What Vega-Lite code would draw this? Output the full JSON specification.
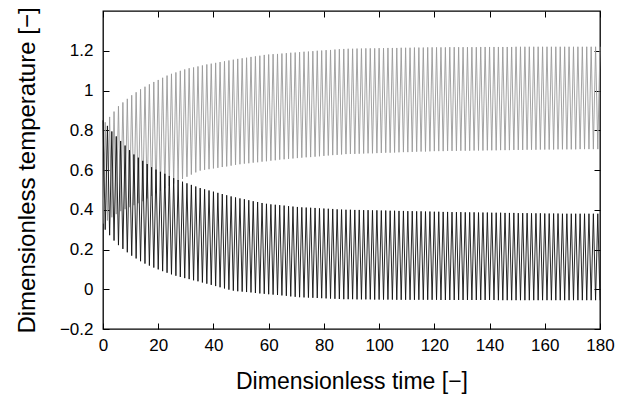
{
 "$schema": "https://vega.github.io/schema/vega-lite/v6.json",
 "width": 497,
 "height": 318,
 "autosize": {"type": "none"},
 "padding": {"left": 103, "top": 11, "right": 20, "bottom": 68},
 "background": "white",
 "config": {
  "view": {"stroke": "#000", "strokeWidth": 1.3},
  "font": "Liberation Sans",
  "axis": {"grid": false, "domain": false, "tickColor": "#000", "tickWidth": 1, "labelColor": "#000", "titleColor": "#000", "labelFont": "Liberation Sans", "titleFont": "Liberation Sans", "labelFontSize": 17, "titleFontSize": 23, "titleFontWeight": "normal"}
 },
 "data": {"values": [
{"t":0,"d":0.85,"g":0.33},{"t":0.8,"d":0.30,"g":0.84},{"t":1.6,"d":0.822,"g":0.346},{"t":2.4,"d":0.272,"g":0.867},
{"t":3.2,"d":0.794,"g":0.362},{"t":4.0,"d":0.245,"g":0.894},{"t":4.8,"d":0.769,"g":0.378},{"t":5.6,"d":0.222,"g":0.921},
{"t":6.4,"d":0.746,"g":0.393},{"t":7.2,"d":0.203,"g":0.94},{"t":8,"d":0.723,"g":0.403},{"t":8.8,"d":0.186,"g":0.958},
{"t":9.6,"d":0.70,"g":0.413},{"t":10.4,"d":0.169,"g":0.976},{"t":11.2,"d":0.678,"g":0.423},{"t":12,"d":0.155,"g":0.991},
{"t":12.8,"d":0.662,"g":0.433},{"t":13.6,"d":0.141,"g":1.006},{"t":14.4,"d":0.646,"g":0.443},{"t":15.2,"d":0.129,"g":1.019},
{"t":16,"d":0.63,"g":0.457},{"t":16.8,"d":0.119,"g":1.031},{"t":17.6,"d":0.614,"g":0.47},{"t":18.4,"d":0.109,"g":1.043},
{"t":19.2,"d":0.602,"g":0.483},{"t":20,"d":0.10,"g":1.053},{"t":20.8,"d":0.591,"g":0.496},{"t":21.6,"d":0.091,"g":1.064},
{"t":22.4,"d":0.581,"g":0.508},{"t":23.2,"d":0.083,"g":1.075},{"t":24,"d":0.57,"g":0.52},{"t":24.8,"d":0.075,"g":1.084},
{"t":25.6,"d":0.559,"g":0.532},{"t":26.4,"d":0.068,"g":1.091},{"t":27.2,"d":0.549,"g":0.544},{"t":28,"d":0.062,"g":1.099},
{"t":28.8,"d":0.541,"g":0.555},{"t":29.6,"d":0.056,"g":1.106},{"t":30.4,"d":0.533,"g":0.566},{"t":31.2,"d":0.051,"g":1.112},
{"t":32,"d":0.525,"g":0.577},{"t":32.8,"d":0.045,"g":1.116},{"t":33.6,"d":0.517,"g":0.588},{"t":34.4,"d":0.04,"g":1.121},
{"t":35.2,"d":0.509,"g":0.597},{"t":36,"d":0.034,"g":1.126},{"t":36.8,"d":0.503,"g":0.601},{"t":37.6,"d":0.028,"g":1.131},
{"t":38.4,"d":0.497,"g":0.604},{"t":39.2,"d":0.022,"g":1.135},{"t":40,"d":0.491,"g":0.608},{"t":40.8,"d":0.016,"g":1.139},
{"t":41.6,"d":0.485,"g":0.611},{"t":42.4,"d":0.01,"g":1.143},{"t":43.2,"d":0.479,"g":0.615},{"t":44,"d":0.004,"g":1.147},
{"t":44.8,"d":0.473,"g":0.618},{"t":45.6,"d":-0.002,"g":1.151},{"t":46.4,"d":0.467,"g":0.622},{"t":47.2,"d":-0.007,"g":1.155},
{"t":48,"d":0.462,"g":0.626},{"t":48.8,"d":-0.01,"g":1.159},{"t":49.6,"d":0.457,"g":0.629},{"t":50.4,"d":-0.012,"g":1.162},
{"t":51.2,"d":0.453,"g":0.632},{"t":52,"d":-0.014,"g":1.165},{"t":52.8,"d":0.448,"g":0.634},{"t":53.6,"d":-0.016,"g":1.169},
{"t":54.4,"d":0.443,"g":0.637},{"t":55.2,"d":-0.019,"g":1.172},{"t":56,"d":0.439,"g":0.639},{"t":56.8,"d":-0.021,"g":1.175},
{"t":57.6,"d":0.434,"g":0.642},{"t":58.4,"d":-0.023,"g":1.179},{"t":59.2,"d":0.43,"g":0.644},{"t":60,"d":-0.025,"g":1.181},
{"t":60.8,"d":0.427,"g":0.647},{"t":61.6,"d":-0.027,"g":1.183},{"t":62.4,"d":0.425,"g":0.649},{"t":63.2,"d":-0.029,"g":1.184},
{"t":64,"d":0.423,"g":0.652},{"t":64.8,"d":-0.031,"g":1.186},{"t":65.6,"d":0.421,"g":0.654},{"t":66.4,"d":-0.033,"g":1.188},
{"t":67.2,"d":0.418,"g":0.656},{"t":68,"d":-0.036,"g":1.19},{"t":68.8,"d":0.416,"g":0.658},{"t":69.6,"d":-0.038,"g":1.191},
{"t":70.4,"d":0.414,"g":0.66},{"t":71.2,"d":-0.04,"g":1.193},{"t":72,"d":0.412,"g":0.662},{"t":72.8,"d":-0.041,"g":1.195},
{"t":73.6,"d":0.411,"g":0.664},{"t":74.4,"d":-0.042,"g":1.196},{"t":75.2,"d":0.41,"g":0.665},{"t":76,"d":-0.043,"g":1.198},
{"t":76.8,"d":0.409,"g":0.667},{"t":77.6,"d":-0.044,"g":1.2},{"t":78.4,"d":0.407,"g":0.669},{"t":79.2,"d":-0.045,"g":1.201},
{"t":80,"d":0.406,"g":0.671},{"t":80.8,"d":-0.046,"g":1.203},{"t":81.6,"d":0.405,"g":0.673},{"t":82.4,"d":-0.047,"g":1.204},
{"t":83.2,"d":0.404,"g":0.675},{"t":84,"d":-0.048,"g":1.206},{"t":84.8,"d":0.402,"g":0.676},{"t":85.6,"d":-0.049,"g":1.208},
{"t":86.4,"d":0.401,"g":0.678},{"t":87.2,"d":-0.05,"g":1.209},{"t":88,"d":0.40,"g":0.68},{"t":88.8,"d":-0.05,"g":1.21},
{"t":89.6,"d":0.40,"g":0.681},{"t":90.4,"d":-0.05,"g":1.21},{"t":91.2,"d":0.399,"g":0.681},{"t":92,"d":-0.051,"g":1.211},
{"t":92.8,"d":0.399,"g":0.682},{"t":93.6,"d":-0.051,"g":1.211},{"t":94.4,"d":0.398,"g":0.683},{"t":95.2,"d":-0.051,"g":1.212},
{"t":96,"d":0.398,"g":0.684},{"t":96.8,"d":-0.051,"g":1.212},{"t":97.6,"d":0.397,"g":0.684},{"t":98.4,"d":-0.052,"g":1.212},
{"t":99.2,"d":0.397,"g":0.685},{"t":100,"d":-0.052,"g":1.213},{"t":100.8,"d":0.396,"g":0.686},{"t":101.6,"d":-0.052,"g":1.213},
{"t":102.4,"d":0.396,"g":0.687},{"t":103.2,"d":-0.052,"g":1.214},{"t":104,"d":0.395,"g":0.687},{"t":104.8,"d":-0.052,"g":1.214},
{"t":105.6,"d":0.395,"g":0.688},{"t":106.4,"d":-0.053,"g":1.214},{"t":107.2,"d":0.394,"g":0.689},{"t":108,"d":-0.053,"g":1.215},
{"t":108.8,"d":0.394,"g":0.69},{"t":109.6,"d":-0.053,"g":1.215},{"t":110.4,"d":0.393,"g":0.69},{"t":111.2,"d":-0.053,"g":1.215},
{"t":112,"d":0.393,"g":0.691},{"t":112.8,"d":-0.053,"g":1.216},{"t":113.6,"d":0.392,"g":0.692},{"t":114.4,"d":-0.053,"g":1.216},
{"t":115.2,"d":0.392,"g":0.693},{"t":116,"d":-0.053,"g":1.216},{"t":116.8,"d":0.391,"g":0.693},{"t":117.6,"d":-0.053,"g":1.217},
{"t":118.4,"d":0.391,"g":0.694},{"t":119.2,"d":-0.053,"g":1.217},{"t":120,"d":0.39,"g":0.695},{"t":120.8,"d":-0.053,"g":1.217},
{"t":121.6,"d":0.39,"g":0.695},{"t":122.4,"d":-0.054,"g":1.217},{"t":123.2,"d":0.389,"g":0.695},{"t":124,"d":-0.054,"g":1.217},
{"t":124.8,"d":0.389,"g":0.696},{"t":125.6,"d":-0.054,"g":1.218},{"t":126.4,"d":0.388,"g":0.696},{"t":127.2,"d":-0.054,"g":1.218},
{"t":128,"d":0.388,"g":0.696},{"t":128.8,"d":-0.054,"g":1.218},{"t":129.6,"d":0.388,"g":0.697},{"t":130.4,"d":-0.054,"g":1.218},
{"t":131.2,"d":0.387,"g":0.697},{"t":132,"d":-0.054,"g":1.218},{"t":132.8,"d":0.387,"g":0.697},{"t":133.6,"d":-0.054,"g":1.218},
{"t":134.4,"d":0.387,"g":0.698},{"t":135.2,"d":-0.054,"g":1.218},{"t":136,"d":0.386,"g":0.698},{"t":136.8,"d":-0.054,"g":1.219},
{"t":137.6,"d":0.386,"g":0.698},{"t":138.4,"d":-0.054,"g":1.219},{"t":139.2,"d":0.386,"g":0.699},{"t":140,"d":-0.054,"g":1.219},
{"t":140.8,"d":0.385,"g":0.699},{"t":141.6,"d":-0.054,"g":1.219},{"t":142.4,"d":0.385,"g":0.699},{"t":143.2,"d":-0.055,"g":1.219},
{"t":144,"d":0.385,"g":0.70},{"t":144.8,"d":-0.055,"g":1.219},{"t":145.6,"d":0.384,"g":0.70},{"t":146.4,"d":-0.055,"g":1.219},
{"t":147.2,"d":0.384,"g":0.70},{"t":148,"d":-0.055,"g":1.219},{"t":148.8,"d":0.384,"g":0.701},{"t":149.6,"d":-0.055,"g":1.22},
{"t":150.4,"d":0.383,"g":0.701},{"t":151.2,"d":-0.055,"g":1.22},{"t":152,"d":0.383,"g":0.701},{"t":152.8,"d":-0.055,"g":1.22},
{"t":153.6,"d":0.383,"g":0.702},{"t":154.4,"d":-0.055,"g":1.22},{"t":155.2,"d":0.382,"g":0.702},{"t":156,"d":-0.055,"g":1.22},
{"t":156.8,"d":0.382,"g":0.702},{"t":157.6,"d":-0.055,"g":1.22},{"t":158.4,"d":0.382,"g":0.703},{"t":159.2,"d":-0.055,"g":1.22},
{"t":160,"d":0.381,"g":0.703},{"t":160.8,"d":-0.055,"g":1.22},{"t":161.6,"d":0.381,"g":0.703},{"t":162.4,"d":-0.055,"g":1.22},
{"t":163.2,"d":0.381,"g":0.703},{"t":164,"d":-0.055,"g":1.22},{"t":164.8,"d":0.381,"g":0.704},{"t":165.6,"d":-0.055,"g":1.22},
{"t":166.4,"d":0.38,"g":0.704},{"t":167.2,"d":-0.055,"g":1.22},{"t":168,"d":0.38,"g":0.704},{"t":168.8,"d":-0.055,"g":1.22},
{"t":169.6,"d":0.38,"g":0.704},{"t":170.4,"d":-0.055,"g":1.22},{"t":171.2,"d":0.38,"g":0.704},{"t":172,"d":-0.055,"g":1.22},
{"t":172.8,"d":0.38,"g":0.705},{"t":173.6,"d":-0.055,"g":1.22},{"t":174.4,"d":0.38,"g":0.705},{"t":175.2,"d":-0.055,"g":1.22},
{"t":176,"d":0.38,"g":0.705},{"t":176.8,"d":-0.055,"g":1.22},{"t":177.6,"d":0.38,"g":0.705},{"t":178.4,"d":-0.055,"g":1.22},
{"t":179.2,"d":0.38,"g":0.705},{"t":180,"d":-0.055,"g":1.22}
 ]},
 "layer": [
  {
   "mark": {"type": "line", "stroke": "#9a9a9a", "strokeWidth": 0.9},
   "encoding": {
    "x": {"field": "t", "type": "quantitative", "scale": {"domain": [0, 180], "nice": false},
     "axis": {"orient": "bottom", "values": [0,20,40,60,80,100,120,140,160,180], "format": "d", "tickSize": -6, "labelPadding": 14, "labelFlush": false, "title": "Dimensionless time [−]", "titlePadding": 17}},
    "y": {"field": "g", "type": "quantitative", "scale": {"domain": [-0.2, 1.4], "nice": false, "zero": false},
     "axis": {"orient": "left", "values": [-0.2,0,0.2,0.4,0.6,0.8,1,1.2], "format": "~g", "tickSize": -6, "labelPadding": 16, "labelFlush": false, "title": "Dimensionless temperature [−]", "titleFontSize": 24, "titlePadding": 20}}
   }
  },
  {
   "mark": {"type": "line", "stroke": "#111111", "strokeWidth": 0.9},
   "encoding": {
    "x": {"field": "t", "type": "quantitative",
     "axis": {"orient": "top", "values": [0,20,40,60,80,100,120,140,160,180], "labels": false, "tickSize": -6, "title": null}},
    "y": {"field": "d", "type": "quantitative",
     "axis": {"orient": "right", "values": [-0.2,0,0.2,0.4,0.6,0.8,1,1.2], "labels": false, "tickSize": -6, "title": null}}
   }
  }
 ],
 "resolve": {"axis": {"x": "independent", "y": "independent"}}
}
